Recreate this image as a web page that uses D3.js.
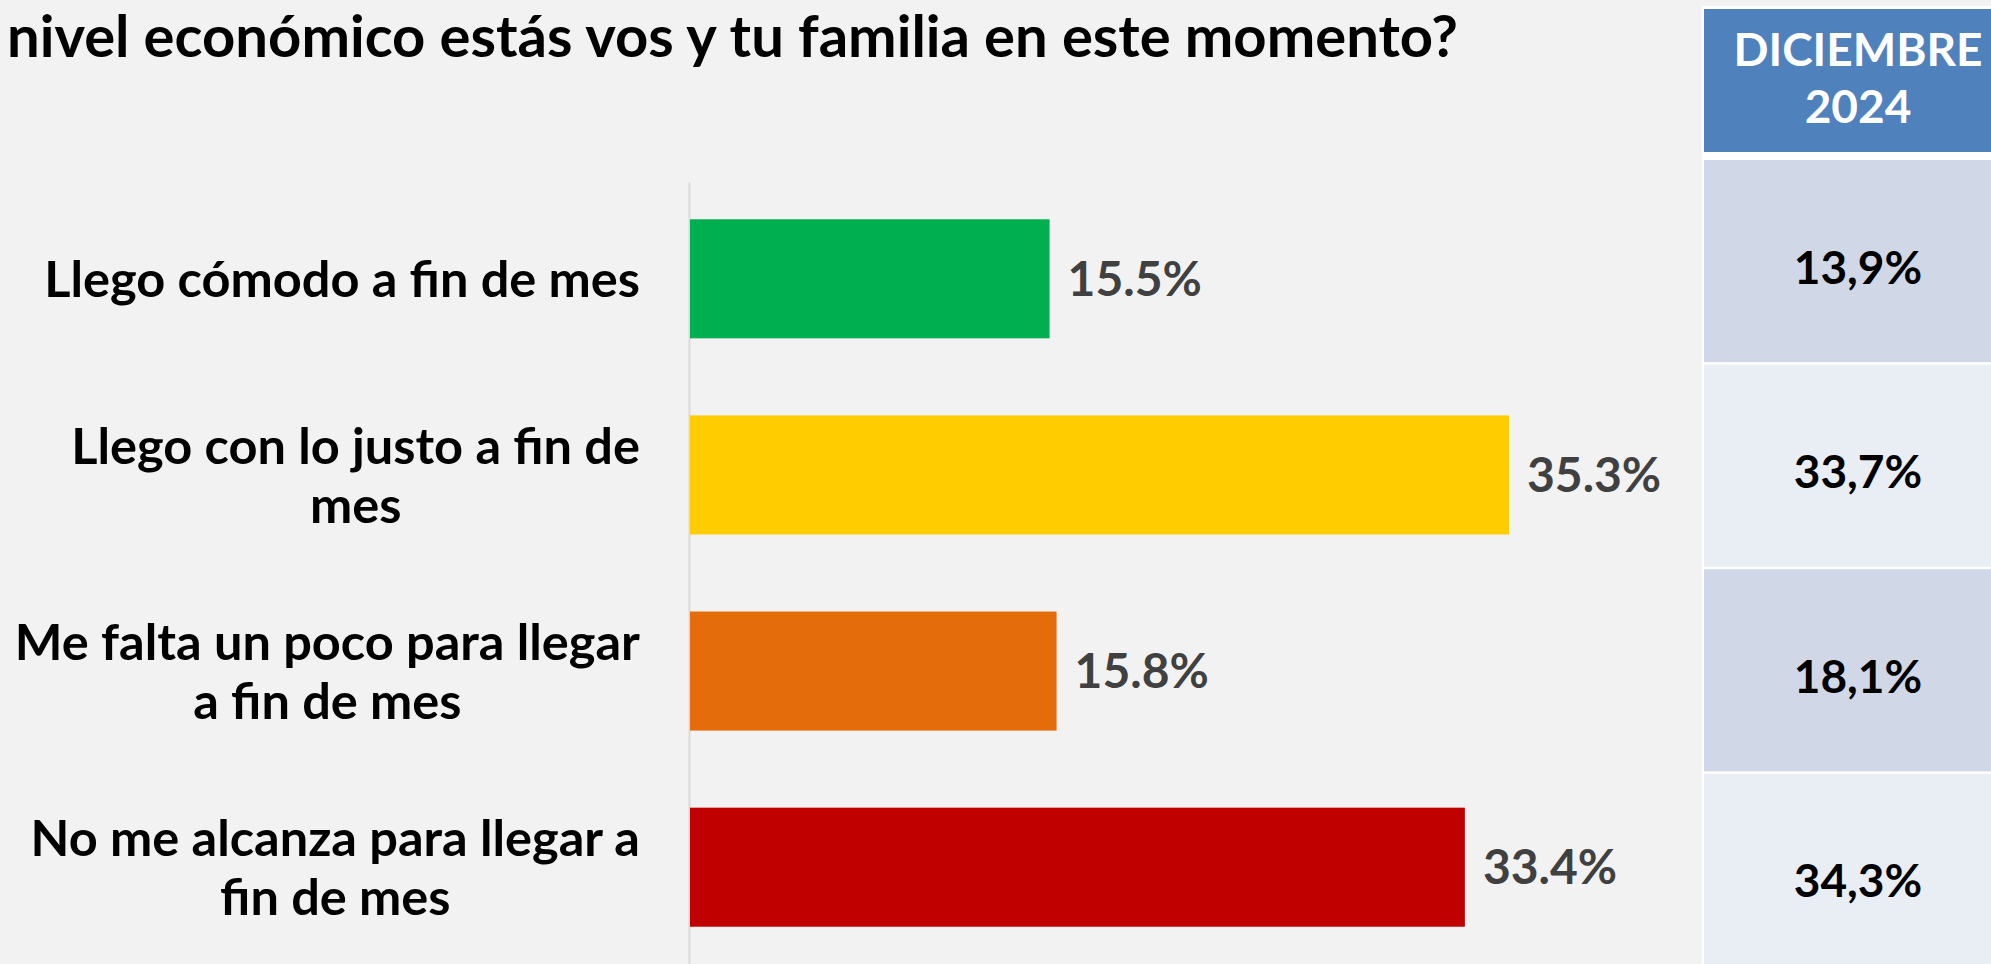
<!DOCTYPE html>
<html>
<head>
<meta charset="utf-8">
<script src="https://cdn.jsdelivr.net/npm/d3@7"></script>
<style>
  body { margin: 0; background: #f2f2f2; }
  svg { display: block; }
</style>
</head>
<body>
<svg id="chart"></svg>
<script>
// data
const titleText = "nivel económico estás vos y tu familia en este momento?";
const categories = [
  "Llego cómodo a fin de mes",
  "Llego con lo justo a fin de\nmes",
  "Me falta un poco para llegar\na fin de mes",
  "No me alcanza para llegar a\nfin de mes"
];
const values = [15.5, 35.3, 15.8, 33.4];
const barColors = ["#00b050", "#ffcc00", "#e46c0a", "#c00000"];
const prevHeader = ["DICIEMBRE", "2024"];
const prevValues = [13.9, 33.7, 18.1, 34.3];

const width = 1991;
const height = 964;
const font = "Lato, 'Open Sans', sans-serif";

const svg = d3.select("#chart")
  .attr("width", width)
  .attr("height", height)
  .style("font-family", font);

svg.append("rect")
  .attr("width", width).attr("height", height)
  .attr("fill", "#f2f2f2");

// scales
const x = d3.scaleLinear().domain([0, 40]).range([690, 1618]);
const y = d3.scaleBand()
  .domain(categories)
  .range([182, 964])
  .paddingInner(0.393)
  .paddingOuter(0.19);

// title (first line is cropped off in the original slide)
svg.append("text")
  .attr("x", 7).attr("y", 57)
  .attr("font-size", 58)
  .attr("font-weight", 700)
  .attr("fill", "#000")
  .text(titleText);

// axis line only
const axis = svg.append("g")
  .attr("transform", `translate(${x(0) - 1},0)`)
  .call(d3.axisLeft(y).tickSize(0).tickFormat(""));
axis.select(".domain").attr("stroke", "#d9d9d9").attr("stroke-width", 2);

// bars
svg.selectAll("rect.bar")
  .data(values)
  .join("rect")
  .attr("class", "bar")
  .attr("x", x(0))
  .attr("y", (d, i) => y(categories[i]))
  .attr("width", d => x(d) - x(0))
  .attr("height", y.bandwidth())
  .attr("fill", (d, i) => barColors[i]);

// value labels
const fmt = d3.format(".1f");
svg.selectAll("text.val")
  .data(values)
  .join("text")
  .attr("class", "val")
  .attr("x", d => x(d) + 18)
  .attr("y", (d, i) => y(categories[i]) + y.bandwidth() / 2)
  .attr("dy", "0.36em")
  .attr("font-size", 48)
  .attr("font-weight", 700)
  .attr("fill", "#404040")
  .text(d => fmt(d) + "%");

// category labels: lines centred on each other, block right-aligned to axis
const labelRight = x(0) - 50;
const lineH = 59;
categories.forEach((c, i) => {
  const lines = c.split("\n");
  const g = svg.append("g");
  const t = g.append("text")
    .attr("font-size", 50.5)
    .attr("font-weight", 700)
    .attr("fill", "#000")
    .attr("text-anchor", "middle");
  const cy = y(c) + y.bandwidth() / 2;
  lines.forEach((ln, k) => {
    t.append("tspan")
      .attr("x", 0)
      .attr("y", cy + (k - (lines.length - 1) / 2) * lineH)
      .attr("dy", "0.36em")
      .text(ln);
  });
  const w = t.node().getBBox().width;
  g.attr("transform", `translate(${labelRight - w / 2},0)`);
});

// side table with previous measurement
const esLocale = d3.formatLocale({ decimal: ",", thousands: ".", grouping: [3], currency: ["", "€"] });
const fmtEs = esLocale.format(".1f");
const tableX = 1702;
const textX = 1858;

svg.append("rect")
  .attr("x", tableX).attr("y", 6)
  .attr("width", width - tableX).attr("height", height - 6)
  .attr("fill", "#ffffff");

svg.append("rect")
  .attr("x", tableX + 2).attr("y", 9)
  .attr("width", width - tableX).attr("height", 143)
  .attr("fill", "#4f81bd");

svg.append("text")
  .attr("x", textX).attr("y", 66)
  .attr("text-anchor", "middle")
  .attr("font-size", 46)
  .attr("font-weight", 700)
  .attr("fill", "#fff")
  .selectAll("tspan")
  .data(prevHeader)
  .join("tspan")
  .attr("x", textX)
  .attr("dy", (d, i) => i ? 57 : 0)
  .text(d => d);

const rowY = d3.scaleBand()
  .domain(categories)
  .range([160, 976])
  .paddingInner(0.012);

svg.selectAll("rect.cell")
  .data(prevValues)
  .join("rect")
  .attr("class", "cell")
  .attr("x", tableX + 2)
  .attr("y", (d, i) => rowY(categories[i]))
  .attr("width", width - tableX)
  .attr("height", rowY.bandwidth())
  .attr("fill", (d, i) => i % 2 ? "#e9edf4" : "#d0d8e8");

svg.selectAll("text.prev")
  .data(prevValues)
  .join("text")
  .attr("class", "prev")
  .attr("x", textX)
  .attr("y", (d, i) => rowY(categories[i]) + rowY.bandwidth() / 2 + 6)
  .attr("dy", "0.36em")
  .attr("text-anchor", "middle")
  .attr("font-size", 46)
  .attr("font-weight", 700)
  .attr("fill", "#000")
  .text(d => fmtEs(d) + "%");
</script>
</body>
</html>
